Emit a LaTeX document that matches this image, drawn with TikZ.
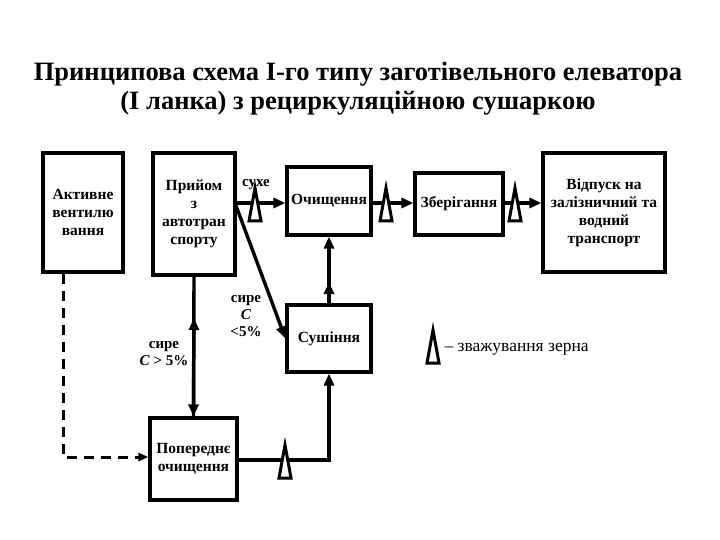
\documentclass[tikz,border=0pt]{standalone}
\usepackage{fontspec}
\setmainfont{Liberation Serif}
\usetikzlibrary{arrows.meta}
\begin{document}
\begin{tikzpicture}[x=1pt,y=-1pt,
 box/.style={draw,line width=3.2pt,inner sep=0pt,font=\bfseries\fontsize{15.5}{18}\selectfont,align=center},
 ar/.style={line width=3.4pt,-{Triangle[length=12pt,width=10pt]}},
 lbl/.style={font=\bfseries\fontsize{15}{17}\selectfont,align=center},
 wt/.style={line width=3pt,line join=miter}]
\useasboundingbox (0,0) rectangle (720,540);
\node[font=\bfseries\fontsize{26.5}{29}\selectfont,align=center] (title) at (358,89) {Принципова схема І-го типу заготівельного елеватора\\(І ланка) з рециркуляційною сушаркою};
\node[box,minimum width=80pt,minimum height=119pt] (akt) at (83,212.5) {Активне\\вентилю\\вання};
\node[box,minimum width=82pt,minimum height=122pt] (pry) at (194,214) {Прийом\\з\\автотран\\спорту};
\node[box,minimum width=84pt,minimum height=68pt] (och) at (329,201) {Очищення};
\node[box,minimum width=88pt,minimum height=62pt] (zbe) at (459,204) {Зберігання};
\node[box,minimum width=122pt,minimum height=119pt] (vid) at (604,212.5) {Відпуск на\\залізничний та\\водний\\транспорт};
\node[box,minimum width=84pt,minimum height=67pt] (sus) at (329,338.5) {Сушіння};
\node[box,minimum width=87pt,minimum height=82pt] (pop) at (193.5,459) {Попереднє\\очищення};
\coordinate (p1) at (235,203);
\draw[ar] (p1) -- (och.west|-p1);
\draw[ar] (och.east|-p1) -- (zbe.west|-p1);
\draw[ar] (zbe.east|-p1) -- (vid.west|-p1);
\draw[ar] (p1) -- (sus.west);
\draw[ar] (sus.north) -- (och.south);
\draw[ar] (sus.north) -- (329,282);
\draw[ar] (pry.south) -- (pop.north);
\draw[ar] (pop.north) -- (194,318);
\coordinate (c1) at (329,460);
\draw[ar] (pop.east|-c1) -- (c1) -- (sus.south);
\coordinate (d1) at (63,457);
\draw[line width=3pt,dash pattern=on 10pt off 7pt,-{Triangle[length=10pt,width=8pt]}] (akt.south-|d1) -- (d1) -- (pop.west|-d1);
\foreach \n/\x/\y in {w1/255/203,w2/386/203,w3/515/203,w4/285/460,w5/433/345}{
 \draw[wt,fill=white] (\x-6,\y+18) -- (\x,\y-15) -- (\x+6,\y+18) -- cycle;
 \coordinate (\n) at (\x,\y);}
\node[lbl] (l1) at (256,185) {сухе};
\node[lbl] (l2) at (246,316) {сире\\\textit{C}\\<5\%};
\node[lbl] (l3) at (164,354) {сире\\\textit{C} > 5\%};
\node[font=\fontsize{17.5}{19}\selectfont,anchor=west] (leg) at (441,349) {– зважування зерна};
\end{tikzpicture}
\end{document}
